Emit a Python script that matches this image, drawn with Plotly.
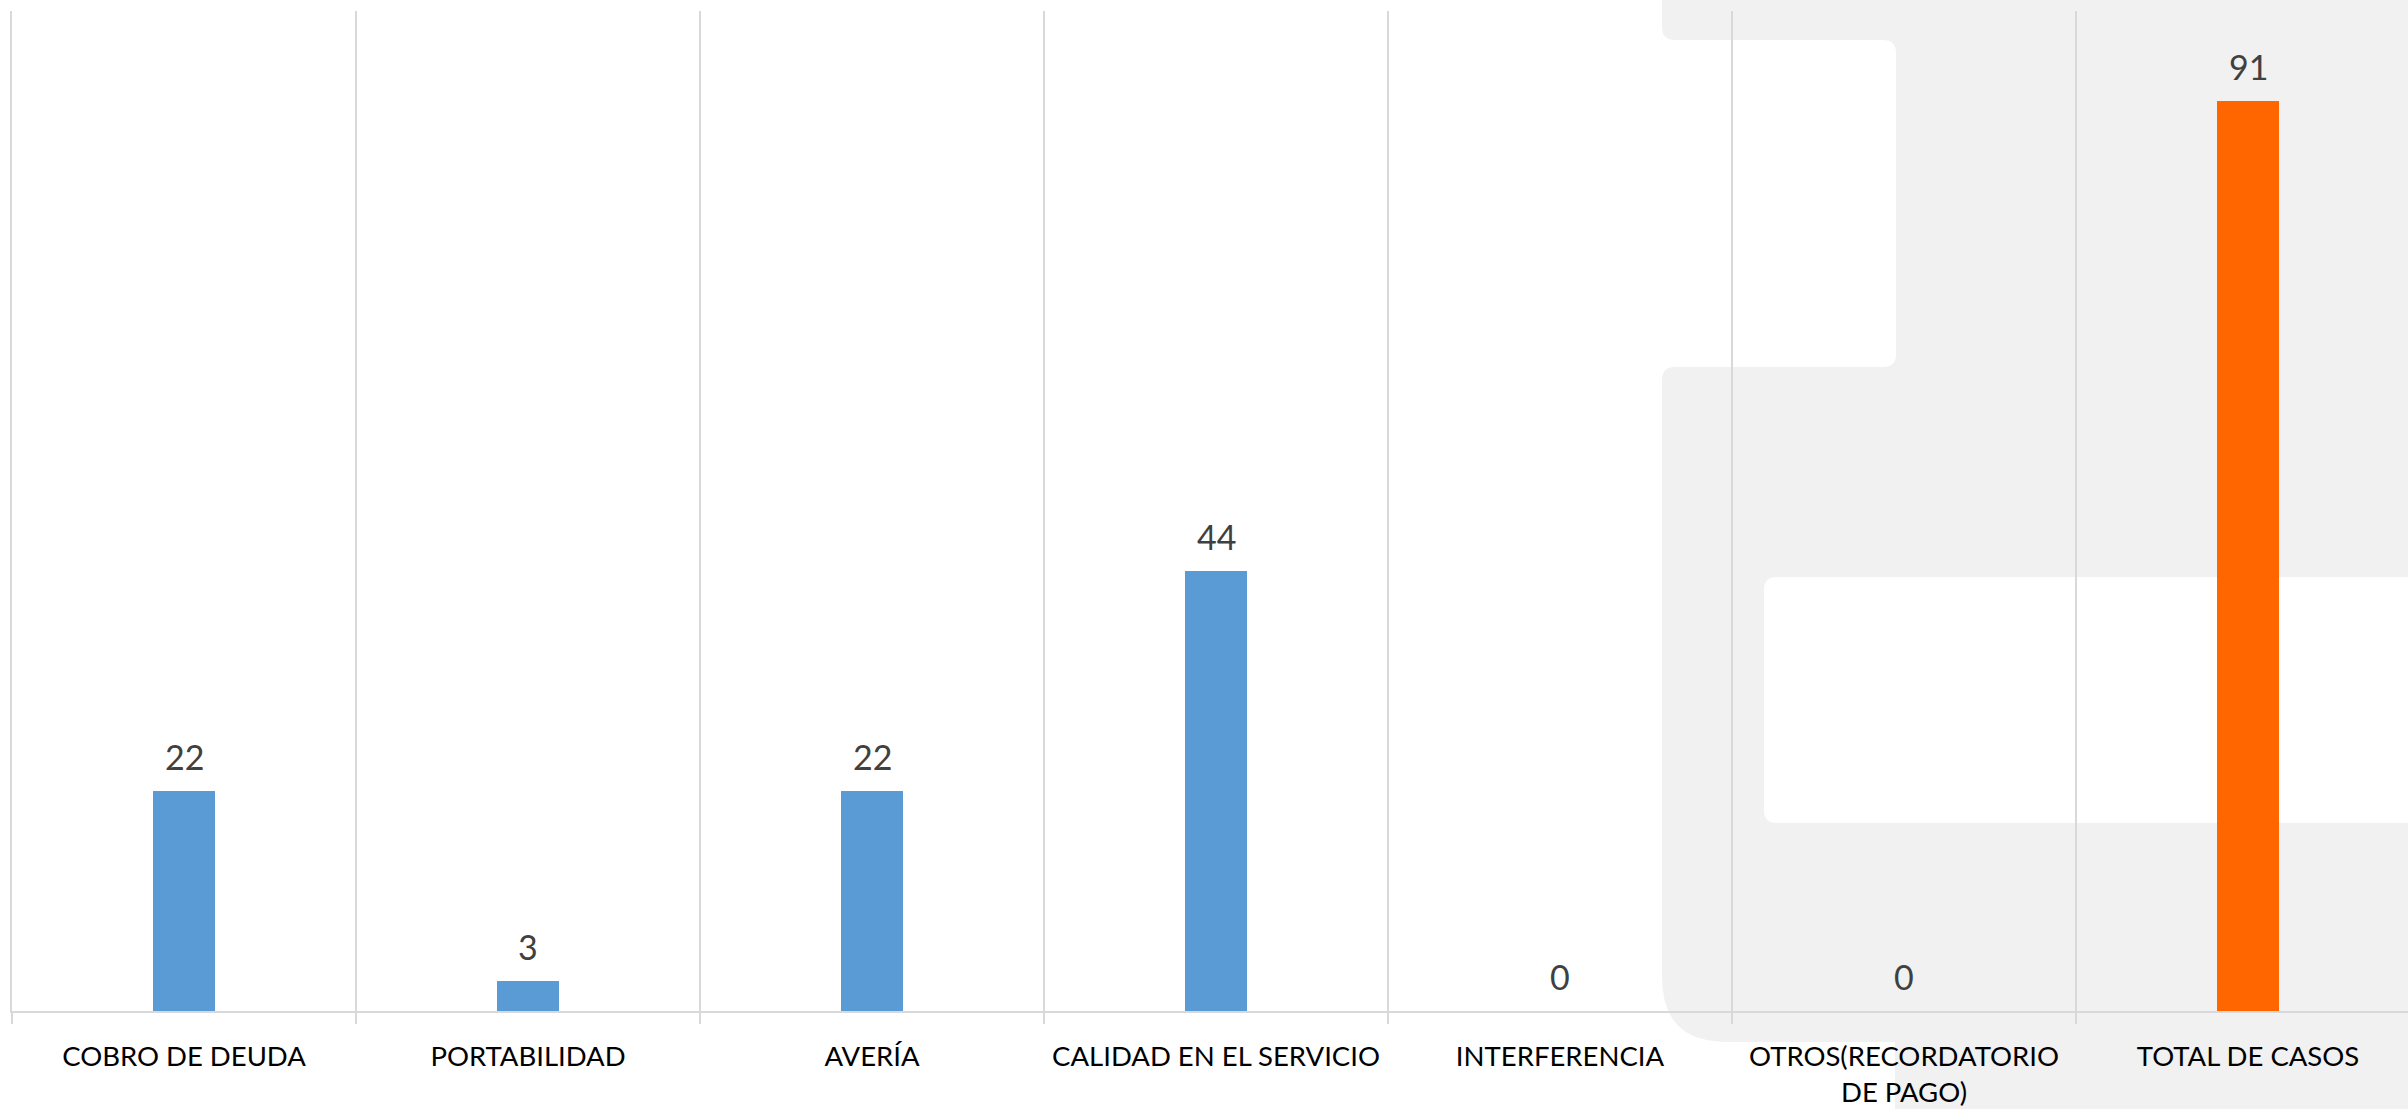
import plotly.graph_objects as go

# ---- data ----
categories = [
    "COBRO DE DEUDA",
    "PORTABILIDAD",
    "AVERÍA",
    "CALIDAD EN EL SERVICIO",
    "INTERFERENCIA",
    "OTROS(RECORDATORIO<br>DE PAGO)",
    "TOTAL DE CASOS",
]
values = [22, 3, 22, 44, 0, 0, 91]
bar_colors = ["#5B9BD5", "#5B9BD5", "#5B9BD5", "#5B9BD5", "#5B9BD5", "#5B9BD5", "#FF6600"]

# ---- geometry (pixels) ----
FIG_W, FIG_H = 2408, 1109
L, R, T, B = 12, 0, 11, 98
PW = FIG_W - L - R
PH = FIG_H - T - B


def px(X):
    return (X - L) / PW


def py(Y):
    return (FIG_H - B - Y) / PH


def path(cmds):
    out = []
    for c in cmds:
        if c[0] == "Z":
            out.append("Z")
        else:
            letter = c[0]
            pts = c[1:]
            s = letter + " " + " ".join(f"{px(pts[i]):.5f},{py(pts[i+1]):.5f}" for i in range(0, len(pts), 2))
            out.append(s)
    return " ".join(out)


gray_path = path([
    ("M", 1662, -4),
    ("L", 2430, -4),
    ("L", 2430, 1115),
    ("L", 1895, 1115),
    ("L", 1895, 1042),
    ("L", 1727, 1042),
    ("Q", 1662, 1042, 1662, 977),
    ("L", 1662, 380),
    ("Q", 1662, 367, 1675, 367),
    ("L", 1883, 367),
    ("Q", 1896, 367, 1896, 354),
    ("L", 1896, 53),
    ("Q", 1896, 40, 1883, 40),
    ("L", 1675, 40),
    ("Q", 1662, 40, 1662, 27),
    ("Z",),
])

white_path = path([
    ("M", 2430, 577),
    ("L", 1777, 577),
    ("Q", 1764, 577, 1764, 590),
    ("L", 1764, 810),
    ("Q", 1764, 823, 1777, 823),
    ("L", 2430, 823),
    ("Z",),
])

fig = go.Figure()
fig.add_trace(go.Bar(
    x=categories,
    y=values,
    marker=dict(color=bar_colors, line=dict(width=0)),
    width=0.183,
    hoverinfo="x+y",
))

for c, v in zip(categories, values):
    fig.add_annotation(
        x=c, y=v, xref="x", yref="y",
        text=str(v), showarrow=False,
        yanchor="bottom", yshift=12,
        font=dict(family="Lato", size=34, color="#404040"),
    )

fig.update_layout(
    width=FIG_W, height=FIG_H,
    margin=dict(l=L, r=R, t=T, b=B, pad=0),
    paper_bgcolor="white",
    plot_bgcolor="rgba(0,0,0,0)",
    showlegend=False,
    bargap=0,
    shapes=[
        dict(type="path", xref="paper", yref="paper", path=gray_path,
             fillcolor="#F0F1F0", line=dict(width=0), layer="below"),
        dict(type="path", xref="paper", yref="paper", path=white_path,
             fillcolor="#FFFFFF", line=dict(width=0), layer="below"),
    ],
    xaxis=dict(
        type="category",
        range=[-0.5, 6.5 - (L + 7 * 344 - FIG_W) / 344],
        tickson="boundaries",
        showgrid=True, gridcolor="#D9D9D9", gridwidth=1.5,
        showline=True, linecolor="#D9D9D9", linewidth=2,
        ticks="outside", ticklen=11, tickcolor="#D9D9D9", tickwidth=1.5,
        tickangle=0, automargin=False, ticklabelstandoff=20,
        tickfont=dict(family="Lato", size=27.5, color="#000000"),
        fixedrange=True,
    ),
    yaxis=dict(
        range=[0, 100],
        showgrid=False, zeroline=False,
        showticklabels=False, ticks="",
        showline=True, linecolor="#D9D9D9", linewidth=1.5,
        automargin=False,
        fixedrange=True,
    ),
)

fig.write_html("out.html", config={"displayModeBar": False},
               post_script="document.body.style.margin='0';")
